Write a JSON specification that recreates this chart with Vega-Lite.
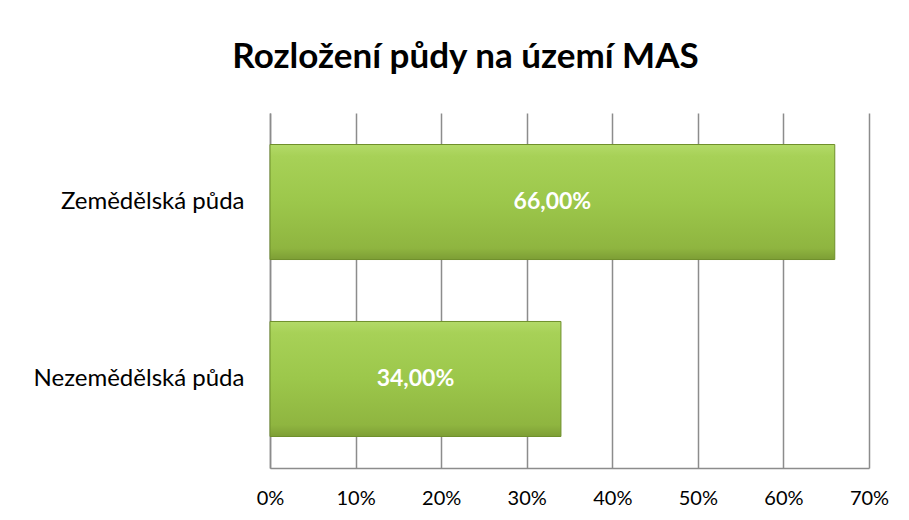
{
  "$schema": "https://vega.github.io/schema/vega-lite/v6.json",
  "autosize": "none",
  "width": 599,
  "height": 355,
  "padding": {"left": 270, "top": 113, "right": 40, "bottom": 52},
  "background": "white",
  "config": {
    "locale": {"number": {"decimal": ",", "thousands": " ", "grouping": [3], "currency": ["", " Kč"]}},
    "view": {"stroke": null},
    "font": "Lato"
  },
  "title": {
    "text": "Rozložení půdy na území  MAS",
    "font": "Lato",
    "fontSize": 35,
    "fontWeight": "bold",
    "color": "#000000",
    "anchor": "middle",
    "dx": -104,
    "offset": 38
  },
  "data": {
    "values": [
      {"kategorie": "Zemědělská půda", "podil": 0.66},
      {"kategorie": "Nezemědělská půda", "podil": 0.34}
    ]
  },
  "encoding": {
    "y": {
      "field": "kategorie",
      "type": "nominal",
      "sort": ["Zemědělská půda", "Nezemědělská půda"],
      "scale": {"paddingInner": 0.35, "paddingOuter": 0.178},
      "axis": {
        "title": null,
        "ticks": false,
        "labelFont": "Lato",
        "labelFontSize": 24,
        "labelLimit": 0,
        "labelColor": "#000000",
        "labelPadding": 26,
        "domainColor": "#8c8c8c",
        "domainWidth": 1.5
      }
    }
  },
  "layer": [
    {
      "mark": {
        "type": "bar",
        "stroke": "#6f8f2b",
        "strokeWidth": 1,
        "color": {
          "gradient": "linear",
          "x1": 0, "y1": 0, "x2": 0, "y2": 1,
          "stops": [
            {"offset": 0, "color": "#b3da68"},
            {"offset": 0.1, "color": "#a7d157"},
            {"offset": 0.5, "color": "#9cc74b"},
            {"offset": 0.9, "color": "#8fb540"},
            {"offset": 1, "color": "#7d9e35"}
          ]
        }
      },
      "encoding": {
        "x": {
          "field": "podil",
          "type": "quantitative",
          "scale": {"domain": [0, 0.7], "nice": false},
          "axis": {
            "title": null,
            "format": ".0%",
            "values": [0, 0.1, 0.2, 0.3, 0.4, 0.5, 0.6, 0.7],
            "ticks": false,
            "labelFlush": false,
            "labelFont": "Lato",
            "labelFontSize": 20,
            "labelColor": "#000000",
            "labelPadding": 20,
            "grid": true,
            "gridColor": "#8c8c8c",
            "gridWidth": 1.5,
            "domainColor": "#8c8c8c",
            "domainWidth": 1.5
          }
        }
      }
    },
    {
      "mark": {
        "type": "text",
        "color": "white",
        "font": "Lato",
        "fontSize": 23,
        "fontWeight": "bold",
        "align": "center",
        "baseline": "middle"
      },
      "encoding": {
        "x": {
          "field": "podil",
          "type": "quantitative",
          "scale": {"domain": [0, 1.4], "nice": false},
          "axis": null
        },
        "text": {"field": "podil", "type": "quantitative", "format": ".2%"}
      }
    }
  ],
  "resolve": {"scale": {"x": "independent"}}
}
